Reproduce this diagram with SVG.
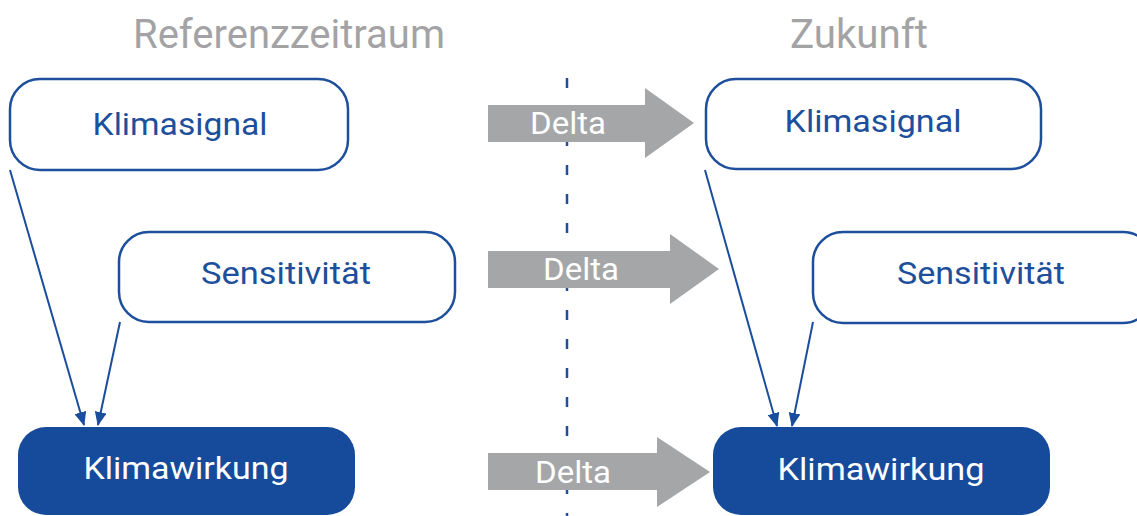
<svg xmlns="http://www.w3.org/2000/svg" width="1137" height="516" viewBox="0 0 1137 516">
  <style>
    .title { font-family: Roboto, "Liberation Sans", sans-serif; font-size: 40px; fill: #a3a3a5; text-anchor: middle; }
    .box { fill: #ffffff; stroke: #1d4f9c; stroke-width: 2.5; }
    .boxd { fill: #164b9b; stroke: none; }
    .lbl { font-family: Roboto, "Liberation Sans", sans-serif; font-size: 32px; fill: #1d4f9c; text-anchor: middle; }
    .lblw { font-family: Roboto, "Liberation Sans", sans-serif; font-size: 32px; fill: #ffffff; text-anchor: middle; }
    .delta { fill: #a5a6a8; }
    .dtxt { font-family: Roboto, "Liberation Sans", sans-serif; font-size: 31px; fill: #ffffff; text-anchor: middle; }
    .conn { stroke: #1a4d9c; stroke-width: 2; fill: none; marker-end: url(#ah); }
  </style>
  <defs>
    <marker id="ah" viewBox="0 0 14 12" refX="13" refY="6" markerWidth="14" markerHeight="12" markerUnits="userSpaceOnUse" orient="auto">
      <path d="M0,0 L14,6 L0,12 Z" fill="#1a4d9c"/>
    </marker>
  </defs>
  <rect width="1137" height="516" fill="#ffffff"/>

  <text class="title" x="289" y="48" textLength="312" lengthAdjust="spacingAndGlyphs">Referenzzeitraum</text>
  <text class="title" x="859" y="48" textLength="138" lengthAdjust="spacingAndGlyphs">Zukunft</text>

  <line x1="567" y1="78" x2="567" y2="516" stroke="#1f4f98" stroke-width="2.5" stroke-dasharray="10 19"/>

  <g id="delta1">
    <polygon class="delta" points="488,105 645,105 645,88 694,123 645,158 645,142 488,142"/>
    <text class="dtxt" x="568" y="134" textLength="76" lengthAdjust="spacingAndGlyphs">Delta</text>
  </g>
  <g id="delta2">
    <polygon class="delta" points="488,251 670,251 670,234 719,269 670,304 670,288 488,288"/>
    <text class="dtxt" x="581" y="280" textLength="76" lengthAdjust="spacingAndGlyphs">Delta</text>
  </g>
  <g id="delta3">
    <polygon class="delta" points="488,453 657,453 657,437 710,472 657,507 657,490 488,490"/>
    <text class="dtxt" x="573" y="483" textLength="76" lengthAdjust="spacingAndGlyphs">Delta</text>
  </g>

  <g id="klimasignal-ref">
    <rect class="box" x="10" y="79" width="338" height="91" rx="30"/>
    <text class="lbl" x="180" y="135" textLength="175" lengthAdjust="spacingAndGlyphs">Klimasignal</text>
  </g>
  <g id="sensitivitaet-ref">
    <rect class="box" x="119" y="232" width="336" height="90" rx="30"/>
    <text class="lbl" x="286" y="284" textLength="170" lengthAdjust="spacingAndGlyphs">Sensitivität</text>
  </g>
  <g id="klimawirkung-ref">
    <rect class="boxd" x="18" y="427" width="337" height="88" rx="28"/>
    <text class="lblw" x="186" y="479" textLength="205" lengthAdjust="spacingAndGlyphs">Klimawirkung</text>
  </g>

  <g id="klimasignal-fut">
    <rect class="box" x="706" y="79" width="335" height="90" rx="30"/>
    <text class="lbl" x="873" y="132" textLength="177" lengthAdjust="spacingAndGlyphs">Klimasignal</text>
  </g>
  <g id="sensitivitaet-fut">
    <rect class="box" x="813" y="232" width="340" height="91" rx="30"/>
    <text class="lbl" x="981" y="284" textLength="168" lengthAdjust="spacingAndGlyphs">Sensitivität</text>
  </g>
  <g id="klimawirkung-fut">
    <rect class="boxd" x="713" y="427" width="337" height="88" rx="28"/>
    <text class="lblw" x="881" y="480" textLength="207" lengthAdjust="spacingAndGlyphs">Klimawirkung</text>
  </g>

  <g id="connectors">
    <line class="conn" x1="10" y1="170" x2="84" y2="425"/>
    <line class="conn" x1="120" y1="322" x2="98" y2="425"/>
    <line class="conn" x1="705" y1="170" x2="777" y2="426"/>
    <line class="conn" x1="813" y1="322" x2="792" y2="426"/>
  </g>
</svg>
